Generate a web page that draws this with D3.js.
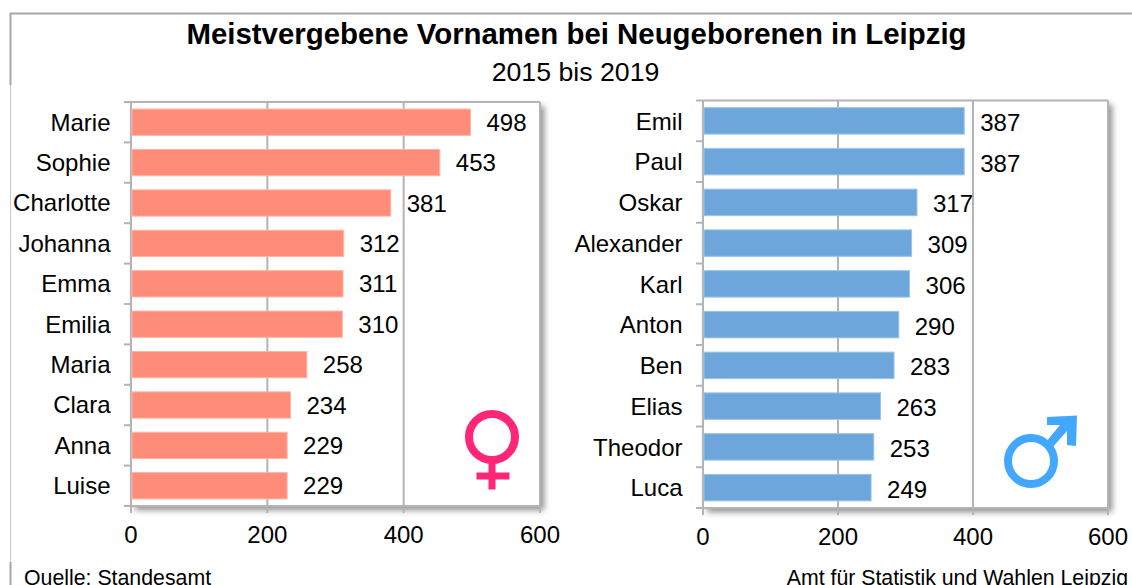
<!DOCTYPE html>
<html><head><meta charset="utf-8">
<script src="https://cdnjs.cloudflare.com/ajax/libs/d3/7.8.5/d3.min.js"></script>
<style>html,body{margin:0;padding:0;background:#fff}svg{display:block}text{font-family:"Liberation Sans",Arial,sans-serif;fill:#000}</style>
</head><body><svg id="c" width="1132" height="585"></svg>
<script>
const titleText="Meistvergebene Vornamen bei Neugeborenen in Leipzig";
const subtitleText="2015 bis 2019";
const sourceLeft="Quelle: Standesamt";
const sourceRight="Amt für Statistik und Wahlen Leipzig";
const femaleNames=["Marie","Sophie","Charlotte","Johanna","Emma","Emilia","Maria","Clara","Anna","Luise"];
const femaleValues=[498,453,381,312,311,310,258,234,229,229];
const maleNames=["Emil","Paul","Oskar","Alexander","Karl","Anton","Ben","Elias","Theodor","Luca"];
const maleValues=[387,387,317,309,306,290,283,263,253,249];
const xTicks=[0,200,400,600];

const svg=d3.select("#c");
const defs=svg.append("defs");
const f=defs.append("filter").attr("id","sh").attr("x","-5%").attr("y","-5%").attr("width","112%").attr("height","112%");
f.append("feDropShadow").attr("dx",4).attr("dy",4).attr("stdDeviation",3).attr("flood-color","#000").attr("flood-opacity",0.45);

const G="#a6a6a6";
svg.append("path").attr("d","M10.5,85V13.5H1132").attr("fill","none").attr("stroke",G).attr("stroke-width",2);
svg.append("path").attr("d","M10.5,85V562").attr("fill","none").attr("stroke","#c8c8c8").attr("stroke-width",1);
svg.append("path").attr("d","M10.5,562V585").attr("fill","none").attr("stroke",G).attr("stroke-width",2);

svg.append("text").attr("x",576.5).attr("y",44).attr("text-anchor","middle").attr("font-size",29.4).attr("font-weight","bold").text(titleText);
svg.append("text").attr("x",575.5).attr("y",81).attr("text-anchor","middle").attr("font-size",26.7).text(subtitleText);
svg.append("text").attr("x",24).attr("y",585).attr("font-size",21.3).text(sourceLeft);
svg.append("text").attr("x",1128).attr("y",585).attr("text-anchor","end").attr("font-size",21.3).text(sourceRight);

function panel(o){
  const x=d3.scaleLinear().domain([0,600]).range([o.x0,o.x1]);
  const y=d3.scaleBand().domain(o.names).range([o.top,o.bottom]).paddingInner(0.35).paddingOuter(0.175);
  const g=svg.append("g");
  g.append("rect").attr("x",o.x0).attr("y",o.top).attr("width",o.x1-o.x0).attr("height",o.bottom-o.top)
    .attr("fill","#fff").attr("filter","url(#sh)");
  g.selectAll("line.grid").data(xTicks).join("line").attr("class","grid")
    .attr("x1",d=>x(d)).attr("x2",d=>x(d)).attr("y1",o.top).attr("y2",o.bottom+7)
    .attr("stroke","#b4b4b4").attr("stroke-width",2);
  g.append("path").attr("d",`M${o.x0-7},${o.top}H${o.x1}`).attr("stroke","#b4b4b4").attr("stroke-width",2).attr("fill","none");
  g.append("path").attr("d",`M${o.x0-7},${o.bottom}H${o.x1}`).attr("stroke","#b4b4b4").attr("stroke-width",2).attr("fill","none");
  g.selectAll("line.tk").data(o.names.slice(1)).join("line").attr("class","tk")
    .attr("x1",o.x0-7).attr("x2",o.x0)
    .attr("y1",d=>y(d)-y.step()*0.175).attr("y2",d=>y(d)-y.step()*0.175)
    .attr("stroke","#b4b4b4").attr("stroke-width",2);
  g.selectAll("rect.bar").data(o.values).join("rect").attr("class","bar")
    .attr("x",o.x0+1).attr("y",(d,i)=>y(o.names[i]))
    .attr("width",d=>x(d)-o.x0-1).attr("height",y.bandwidth()).attr("fill",o.color)
    .attr("stroke",o.edge).attr("stroke-width",1);
  g.selectAll("text.val").data(o.values).join("text").attr("class","val")
    .attr("x",d=>x(d)+o.valOff).attr("y",(d,i)=>y(o.names[i])+y.bandwidth()/2+o.valDy)
    .attr("font-size",24).text(d=>d);
  g.selectAll("text.nm").data(o.names).join("text").attr("class","nm")
    .attr("x",o.x0-20.5).attr("y",d=>y(d)+y.bandwidth()/2+o.nameDy)
    .attr("text-anchor","end").attr("font-size",24).text(d=>d);
  g.selectAll("text.xl").data(xTicks).join("text").attr("class","xl")
    .attr("x",d=>x(d)).attr("y",o.bottom+37).attr("text-anchor","middle").attr("font-size",24).text(d=>d);
}
panel({names:femaleNames,values:femaleValues,x0:131,x1:540,top:102,bottom:506,color:"#ff8c78",edge:"#ffb3a5",valOff:16,valDy:8.5,nameDy:8.3});
panel({names:maleNames,values:maleValues,x0:703,x1:1108,top:100.5,bottom:508,color:"#6ca6da",edge:"#9cc4e8",valOff:16,valDy:10,nameDy:8.7});

const pink="#ff2678";
svg.append("circle").attr("cx",492).attr("cy",437).attr("r",23).attr("fill","none").attr("stroke",pink).attr("stroke-width",8);
svg.append("path").attr("d","M492,462V489.5M476.5,476H509.5").attr("fill","none").attr("stroke",pink).attr("stroke-width",7);
const blue="#42a8ff";
svg.append("circle").attr("cx",1031).attr("cy",461).attr("r",23).attr("fill","none").attr("stroke",blue).attr("stroke-width",8);
svg.append("path").attr("d","M1047,417L1077,415.5L1076,446L1067,445L1067,431L1051,449L1046,442L1060,425L1047,425Z").attr("fill",blue);
</script></body></html>
